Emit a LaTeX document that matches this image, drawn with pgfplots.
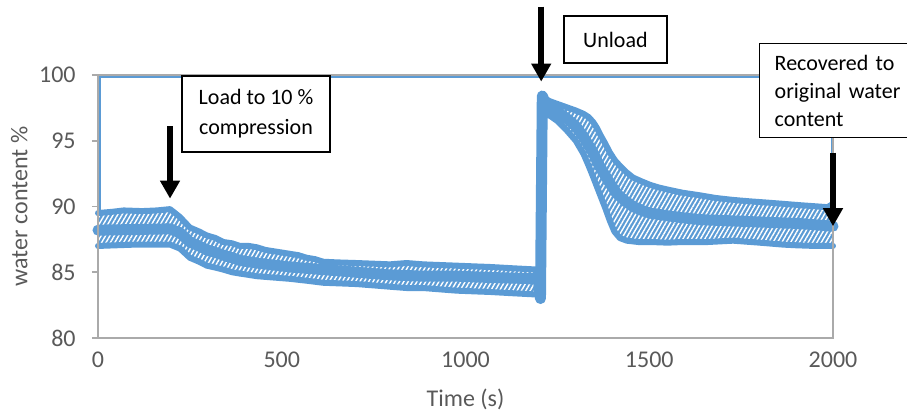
\documentclass[border=0pt]{standalone}
\usepackage{fontspec}
\setmainfont{Carlito}
\usepackage{pgfplots}
\pgfplotsset{compat=1.18}
\usetikzlibrary{patterns.meta,arrows.meta}
\definecolor{wblue}{RGB}{91,155,213}
\definecolor{axgray}{RGB}{170,170,170}
\definecolor{txgray}{RGB}{89,89,89}
\begin{document}
\begin{tikzpicture}
\useasboundingbox (-49pt,-36.5pt) rectangle (404.5pt,169pt);
\begin{axis}[
  at={(0,0)}, anchor=south west,
  scale only axis, width=367.5pt, height=131.5pt,
  xmin=0, xmax=2000, ymin=80, ymax=100,
  clip=false, axis on top,
  axis line style={axgray, line width=0.9pt},
  xtick={0,500,...,2000}, ytick={80,85,...,100},
  ytick pos=left, xtick pos=bottom,
  tick align=outside,
  major tick length=3pt,
  ytick style={axgray, line width=0.9pt},
  xtick style={draw=none},
  /pgf/number format/assume math mode=true,
  /pgf/number format/1000 sep={},
  ticklabel style={font=\fontsize{12}{14}\selectfont, text=txgray},
  yticklabel style={inner sep=0pt, xshift=-8pt},
  xticklabel style={inner sep=0pt, yshift=-4pt},
  xlabel={Time (s)}, ylabel={water content \%},
  xlabel style={at={(axis description cs:0.5,-0.262)}, anchor=base, inner sep=0pt, font=\fontsize{12}{14}\selectfont, text=txgray},
  ylabel style={at={(axis description cs:-0.0952,0.5)}, anchor=south, inner sep=0pt, font=\fontsize{12}{14}\selectfont, text=txgray},
]
% blue frame artifacts
\addplot[wblue, line width=0.8pt] coordinates {(6,89.5) (6,99.85) (1996,99.85) (1996,90.3)};
% hatched band, part A
\addplot[draw=none, fill=wblue, postaction={pattern={Lines[angle=60,distance=1.9pt,line width=0.7pt]}, pattern color=white}] coordinates {
(0,89.5) (40,89.6) (70,89.7) (120,89.65) (160,89.7) (196,89.8) (223,89.2) (250,88.4) (275,88.1) (296,87.8) (320,87.6) (341,87.3) (365,87.2) (386,87.0) (410,87.0) (432,86.9) (455,86.7) (477,86.6) (500,86.5) (522,86.4) (545,86.3) (568,86.1) (590,86.0) (613,85.8) (650,85.75) (704,85.7) (750,85.65) (794,85.6) (840,85.7) (885,85.6) (930,85.55) (976,85.5) (1020,85.45) (1067,85.4) (1130,85.3) (1198,85.2)
(1198,83.3) (1130,83.4) (1067,83.5) (1020,83.55) (976,83.6) (930,83.7) (885,83.8) (840,83.8) (794,83.9) (750,84.0) (704,84.1) (660,84.15) (613,84.2) (570,84.35) (522,84.5) (477,84.6) (432,84.7) (410,84.8) (386,84.9) (365,85.0) (341,85.2) (320,85.35) (296,85.5) (275,85.8) (250,86.1) (223,86.8) (196,87.1) (150,87.1) (100,87.1) (50,87.05) (0,87.0)
};
% hatched band, part B
\addplot[draw=none, fill=wblue, postaction={pattern={Lines[angle=60,distance=1.9pt,line width=0.7pt]}, pattern color=white}] coordinates {
(1210,98.3) (1230,98.0) (1250,97.8) (1275,97.55) (1300,97.3) (1321,97.05) (1335,96.8) (1348,96.4) (1357,96.0) (1366,95.5) (1380,94.8) (1393,94.1) (1407,93.5) (1420,93.1) (1438,92.6) (1456,92.2) (1480,91.9) (1502,91.65) (1525,91.45) (1548,91.3) (1590,91.05) (1638,90.85) (1680,90.65) (1728,90.5) (1770,90.4) (1819,90.3) (1865,90.2) (1910,90.1) (1960,90.0) (1985,89.95) (2000,90.2)
(2000,87.0) (1950,87.0) (1900,87.05) (1865,87.1) (1800,87.25) (1728,87.4) (1660,87.3) (1592,87.3) (1550,87.25) (1502,87.3) (1470,87.3) (1439,87.4) (1420,87.6) (1405,88.1) (1393,88.9) (1380,89.9) (1366,90.9) (1348,92.2) (1335,93.1) (1321,94.0) (1300,95.0) (1275,95.8) (1250,96.5) (1230,96.9) (1210,97.0)
};
% upper / lower lines
\addplot[wblue, line width=3pt, line join=round, line cap=round] coordinates {
(0,89.5) (40,89.6) (70,89.7) (120,89.65) (160,89.7) (196,89.8) (223,89.2) (250,88.4) (275,88.1) (296,87.8) (320,87.6) (341,87.3) (365,87.2) (386,87.0) (410,87.0) (432,86.9) (455,86.7) (477,86.6) (500,86.5) (522,86.4) (545,86.3) (568,86.1) (590,86.0) (613,85.8) (650,85.75) (704,85.7) (750,85.65) (794,85.6) (840,85.7) (885,85.6) (930,85.55) (976,85.5) (1020,85.45) (1067,85.4) (1130,85.3) (1198,85.2)};
\addplot[wblue, line width=3pt, line join=round, line cap=round] coordinates {
(0,87.0) (50,87.05) (100,87.1) (150,87.1) (196,87.1) (223,86.8) (250,86.1) (275,85.8) (296,85.5) (320,85.35) (341,85.2) (365,85.0) (386,84.9) (410,84.8) (432,84.7) (477,84.6) (522,84.5) (570,84.35) (613,84.2) (660,84.15) (704,84.1) (750,84.0) (794,83.9) (840,83.8) (885,83.8) (930,83.7) (976,83.6) (1020,83.55) (1067,83.5) (1130,83.4) (1198,83.3)};
\addplot[wblue, line width=3pt, line join=round, line cap=round] coordinates {
(1210,98.3) (1230,98.0) (1250,97.8) (1275,97.55) (1300,97.3) (1321,97.05) (1335,96.8) (1348,96.4) (1357,96.0) (1366,95.5) (1380,94.8) (1393,94.1) (1407,93.5) (1420,93.1) (1438,92.6) (1456,92.2) (1480,91.9) (1502,91.65) (1525,91.45) (1548,91.3) (1590,91.05) (1638,90.85) (1680,90.65) (1728,90.5) (1770,90.4) (1819,90.3) (1865,90.2) (1910,90.1) (1960,90.0) (1985,89.95) (2000,90.2)};
\addplot[wblue, line width=3pt, line join=round, line cap=round] coordinates {
(1210,97.0) (1230,96.9) (1250,96.5) (1275,95.8) (1300,95.0) (1321,94.0) (1335,93.1) (1348,92.2) (1366,90.9) (1380,89.9) (1393,88.9) (1405,88.1) (1420,87.6) (1439,87.4) (1470,87.3) (1502,87.3) (1550,87.25) (1592,87.3) (1660,87.3) (1728,87.4) (1800,87.25) (1865,87.1) (1900,87.05) (1950,87.0) (2000,87.0)};
% mean
\addplot[wblue, line width=5.5pt, line join=round, line cap=round] coordinates {
(0,88.2) (100,88.25) (196,88.3) (223,88.0) (250,87.3) (275,87.0) (296,86.7) (320,86.5) (341,86.3) (365,86.1) (386,85.9) (410,85.8) (432,85.7) (477,85.55) (522,85.4) (568,85.3) (613,85.2) (660,85.1) (704,85.0) (750,84.9) (794,84.8) (840,84.75) (885,84.7) (976,84.7) (1067,84.6) (1198,84.5) (1204,83.0) (1209,98.4) (1221,97.6) (1250,97.2) (1275,96.7) (1300,96.1) (1321,95.3) (1345,94.2) (1366,93.0) (1390,91.9) (1411,91.0) (1435,90.4) (1456,90.0) (1480,89.7) (1502,89.5) (1548,89.3) (1590,89.15) (1638,89.0) (1728,88.9) (1819,88.8) (1910,88.7) (2000,88.5)};
\coordinate (A1s) at (axis cs:196,96.1);
\coordinate (A1e) at (axis cs:196,90.6);
\coordinate (A2s) at (axis cs:1206,105.2);
\coordinate (A2e) at (axis cs:1206,99.5);
\coordinate (A3s) at (axis cs:2000,94.1);
\coordinate (A3e) at (axis cs:2000,88.5);
\coordinate (B1) at (axis cs:430,97.03);
\coordinate (B2) at (axis cs:1408,102.7);
\coordinate (B3) at (axis cs:1798.6,102.43);
\end{axis}
\draw[line width=3pt, -{Triangle[width=9.5pt,length=9pt]}] (A1s) -- (A1e);
\draw[line width=3pt, -{Triangle[width=9.5pt,length=9pt]}] (A2s) -- (A2e);
\draw[line width=3pt, -{Triangle[width=9.5pt,length=9pt]}] (A3s) -- (A3e);
\node[draw, line width=0.7pt, fill=white, minimum width=74pt, minimum height=38pt, align=center, inner sep=0pt, font=\fontsize{11}{15}\selectfont] at (B1) {Load to 10 \%\\compression};
\node[draw, line width=0.7pt, fill=white, minimum width=51.5pt, minimum height=23.5pt, align=center, inner sep=0pt, font=\fontsize{11}{14}\selectfont] at (B2) {Unload};
\node[draw, line width=0.7pt, fill=white, anchor=north west, text width=70pt, minimum height=47pt, align=left, inner xsep=7.5pt, inner ysep=3pt, font=\fontsize{11}{14}\selectfont] at (B3) {Recovered to\\original water\\content};
\end{tikzpicture}
\end{document}
